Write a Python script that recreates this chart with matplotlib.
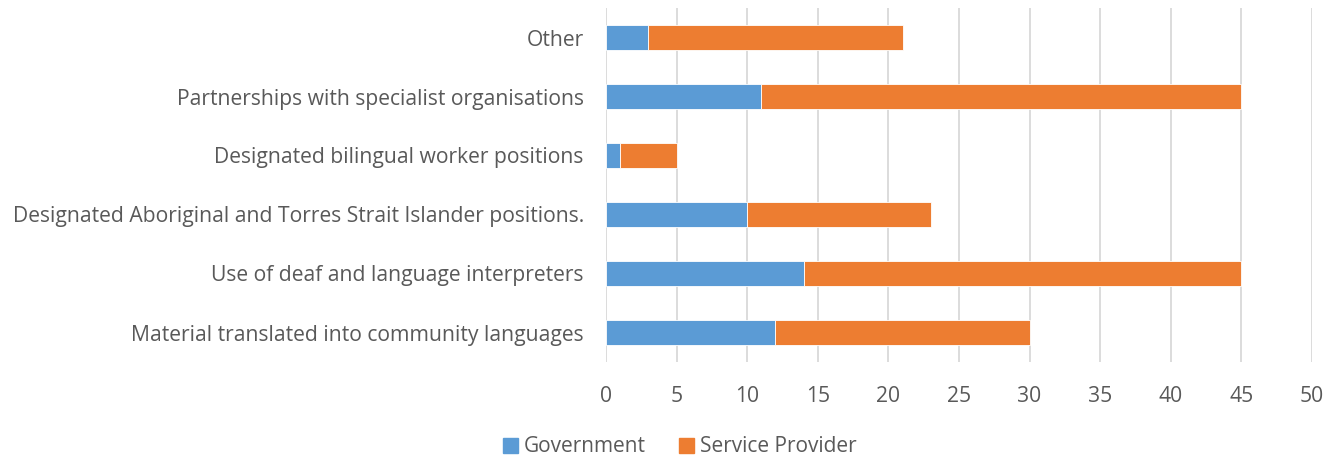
import matplotlib
matplotlib.use("Agg")
import matplotlib.pyplot as plt
from matplotlib.patches import Patch

categories = [
    "Material translated into community languages",
    "Use of deaf and language interpreters",
    "Designated Aboriginal and Torres Strait Islander positions.",
    "Designated bilingual worker positions",
    "Partnerships with specialist organisations",
    "Other",
]
government = [12, 14, 10, 1, 11, 3]
service_provider = [18, 31, 13, 4, 34, 18]
xticks = [0, 5, 10, 15, 20, 25, 30, 35, 40, 45, 50]

plt.rcParams['font.family'] = ['Open Sans', 'DejaVu Sans']
text_color = "#595959"
blue = "#5B9BD5"
orange = "#ED7D31"

fig = plt.figure(figsize=(13.26, 4.55), dpi=100)
ax = fig.add_axes([606/1326, 1-362/455, (1312-606)/1326, 354/455])

y = list(range(len(categories)))
ax.barh(y, government, height=0.41, color=blue, edgecolor="white", linewidth=0.6, zorder=3)
ax.barh(y, service_provider, left=government, height=0.41, color=orange, edgecolor="white", linewidth=0.6, zorder=3)

ax.set_xlim(0, 50)
ax.set_ylim(-0.5, 5.5)
ax.set_xticks(xticks)
ax.set_yticks(y)
ax.set_yticklabels(categories)
ax.tick_params(axis='both', length=0, colors=text_color, labelsize=15.2)
ax.tick_params(axis='y', pad=16)
ax.tick_params(axis='x', pad=17)
ax.grid(axis='x', color="#D9D9D9", linewidth=1.3, zorder=0)
for s in ax.spines.values():
    s.set_visible(False)

handles = [Patch(color=blue, label="Government"), Patch(color=orange, label="Service Provider")]
fig.legend(handles=handles, loc='center', bbox_to_anchor=(680/1326, 1-447/455), ncol=2,
           frameon=False, fontsize=15, handlelength=0.7, handleheight=0.7, handletextpad=0.3,
           columnspacing=1.6, labelcolor=text_color)

fig.savefig("out.png", dpi=100)
